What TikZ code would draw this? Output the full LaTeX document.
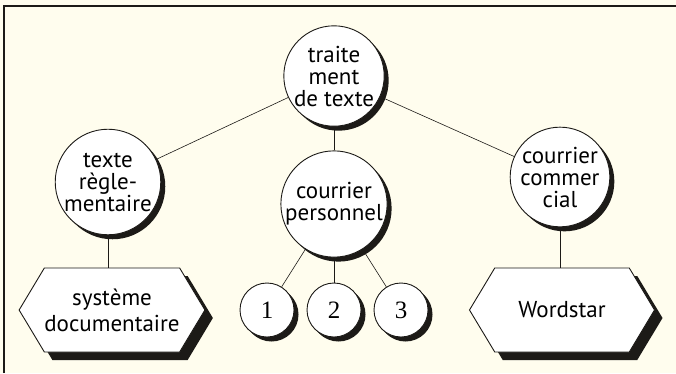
\documentclass[tikz,border=0pt]{standalone}
\usepackage{fontspec}
\setmainfont{PT Sans}
\newfontfamily\numfont{Liberation Serif}
\usetikzlibrary{positioning,shapes.symbols,shadows}
\definecolor{tdPaper}{HTML}{FFFDEE}
\definecolor{tdInk}{HTML}{1C1A17}
\tikzset{
  blob/.style    ={circle,draw=tdInk,line width=0.9pt,fill=white,inner sep=0pt,
                   drop shadow={shadow xshift=4.5pt,shadow yshift=-4.5pt,fill=tdInk,opacity=1}},
  bubble/.style  ={blob,minimum size=94pt,align=center,
                   font=\fontsize{23}{22}\selectfont},
  mini/.style    ={blob,minimum size=54pt,font=\numfont\fontsize{25}{26}\selectfont,
                   drop shadow={shadow xshift=3.5pt,shadow yshift=-3.5pt,fill=tdInk,opacity=1}},
  hexbox/.style  ={signal,signal to=west and east,signal pointer angle=118,
                   draw=tdInk,line width=0.9pt,fill=white,inner sep=0pt,
                   minimum width=185pt,minimum height=84pt,align=center,
                   font=\fontsize{23}{26}\selectfont,
                   drop shadow={shadow xshift=8pt,shadow yshift=-8pt,fill=tdInk,opacity=1}},
  link/.style    ={draw=tdInk,line width=0.6pt},
  frame/.style   ={draw=tdInk,line width=1.5pt},
}
\begin{document}
\begin{tikzpicture}[x=1pt,y=1pt]
\useasboundingbox[fill=tdPaper] (0,0) rectangle (676,373);
\draw[frame] (4,0) -- (4,367) -- (676,367);

\node[bubble] (root) at (334,297) {traite\\ment\\de texte};
\node[bubble] (regl) at (108,191) {texte\\règle-\\mentaire};
\node[bubble] (perso) at (334,169) {courrier\\personnel};
\node[bubble] (comm) at (560,196) {courrier\\commer\\cial};

\node[mini] (p1) at (267,63) {1};
\node[mini] (p2) at (334,63) {2};
\node[mini] (p3) at (401,63) {3};

\node[hexbox] (docsys) at (112,63) {système\\documentaire};
\node[hexbox] (wstar) at (562,63) {Wordstar};

\draw[link] (root) -- (regl);
\draw[link] (root) -- (comm);
\draw[link] (root) -- (perso);
\draw[link] (perso) -- (p1);
\draw[link] (perso) -- (p2);
\draw[link] (perso) -- (p3);
\draw[link] (regl.south) -- (regl.south |- docsys.north);
\draw[link] (comm.south) -- (comm.south |- wstar.north);
\end{tikzpicture}
\end{document}
